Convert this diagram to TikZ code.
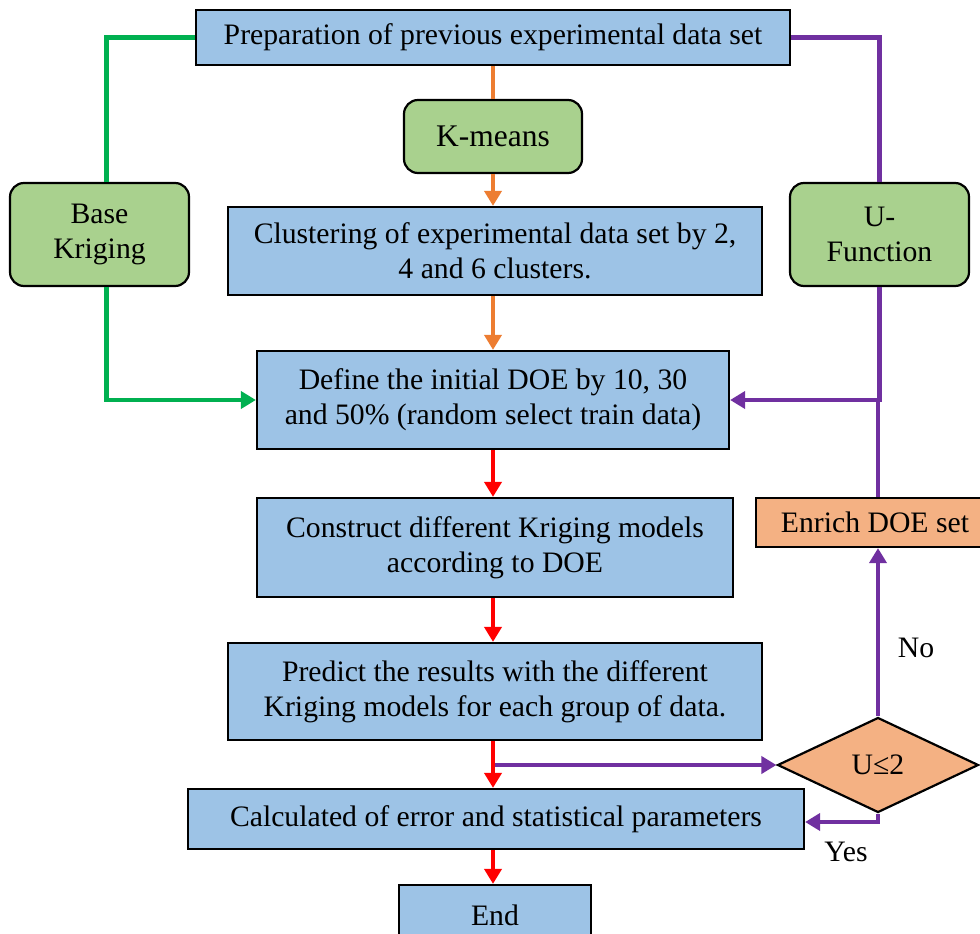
\documentclass[tikz,border=0pt]{standalone}
\usepackage{fontspec}
\setmainfont{Liberation Serif}
\usetikzlibrary{arrows.meta,shapes.geometric}
\definecolor{boxblue}{HTML}{9DC3E6}
\definecolor{boxgreen}{HTML}{A9D18E}
\definecolor{boxorange}{HTML}{F4B183}
\definecolor{lgreen}{HTML}{00B050}
\definecolor{lpurple}{HTML}{7030A0}
\definecolor{lorange}{HTML}{ED7D31}
\definecolor{lred}{HTML}{FF0000}
\begin{document}
\begin{tikzpicture}[x=1pt,y=-1pt,
  txt/.style={font=\fontsize{29.7}{35}\selectfont, align=center},
  bluebox/.style={txt, draw=black, line width=2.2pt, fill=boxblue, inner sep=0pt},
  greenbox/.style={txt, draw=black, line width=2.2pt, fill=boxgreen, rounded corners=14pt, inner sep=0pt},
  orangebox/.style={txt, draw=black, line width=2.2pt, fill=boxorange, inner sep=0pt},
  conn/.style={line width=4.8pt, line join=miter},
  tip/.style={-{Triangle[width=17pt,length=15pt]}},
  gline/.style={conn, draw=lgreen},
  pline/.style={conn, draw=lpurple},
  oline/.style={conn, draw=lorange},
  rline/.style={conn, draw=lred},
  lbl/.style={txt}]
\useasboundingbox (0,0) rectangle (980,934);
\begin{scope}
\clip (0,0) rectangle (980,934);
% boxes
\node[bluebox, minimum width=594pt, minimum height=55pt] (prep) at (493,37.5) {Preparation of previous experimental data set};
\node[greenbox, minimum width=178pt, minimum height=73pt, font=\fontsize{31.5}{35}\selectfont] (km) at (493,136.5) {K-means};
\node[bluebox, minimum width=534pt, minimum height=88pt] (clus) at (495,251) {Clustering of experimental data set by 2,\\4 and 6 clusters.};
\node[bluebox, minimum width=472pt, minimum height=98pt] (def) at (493,400) {Define the initial DOE by 10, 30\\and 50\% (random select train data)};
\node[bluebox, minimum width=476pt, minimum height=99pt] (cons) at (495,547.5) {Construct different Kriging models\\according to DOE};
\node[bluebox, minimum width=534pt, minimum height=97pt] (pred) at (495,691.5) {Predict the results with the different\\Kriging models for each group of data.};
\node[bluebox, minimum width=616pt, minimum height=60pt] (calc) at (496,819) {Calculated of error and statistical parameters};
\node[bluebox, minimum width=192pt, minimum height=60pt] (end) at (495,915) {End};
\node[greenbox, minimum width=179pt, minimum height=103pt] (bk) at (99.5,234.5) {Base\\Kriging};
\node[greenbox, minimum width=179pt, minimum height=103pt] (uf) at (879.5,234.5) {U-\\Function};
\node[orangebox, minimum width=238pt, minimum height=49pt] (enr) at (875,522.5) {Enrich DOE set};
\node[txt, draw=black, line width=2.2pt, fill=boxorange, diamond, inner sep=0pt, minimum width=201pt, minimum height=95pt] (dia) at (878,765) {U≤2};
% labels
\node[lbl] (no) at (916,648) {No};
\node[lbl] (yes) at (846,852) {Yes};
% green connectors
\draw[gline] (prep.west) -| ([xshift=7pt]bk.north);
\draw[gline, tip] ([xshift=7pt]bk.south) |- (def.west);
% purple connectors
\draw[pline] (prep.east) -| (uf.north);
\draw[pline, tip] (uf.south) |- (def.east);
\draw[pline] (dia.north |- enr.north) -- (dia.north |- def.east);
\draw[pline, tip] (dia.north) -- (dia.north |- enr.south);
\coordinate (split) at ([xshift=-2pt]pred.south |- dia.west);
\draw[pline, tip] (split) -- (dia.west);
\draw[pline, tip] (dia.south) |- ([yshift=-3pt]calc.east);
% orange connectors
\draw[oline] (prep.south) -- (km.north);
\draw[oline, tip] (km.south) -- ([xshift=-2pt]clus.north);
\draw[oline, tip] ([xshift=-2pt]clus.south) -- (def.north);
% red connectors
\draw[rline, tip] (def.south) -- ([xshift=-2pt]cons.north);
\draw[rline, tip] ([xshift=-2pt]cons.south) -- ([xshift=-2pt]pred.north);
\draw[rline, tip] ([xshift=-2pt]pred.south) -- ([xshift=-3pt]calc.north);
\draw[rline, tip] ([xshift=-3pt]calc.south) -- ([xshift=-2pt]end.north);
\end{scope}
\end{tikzpicture}
\end{document}
